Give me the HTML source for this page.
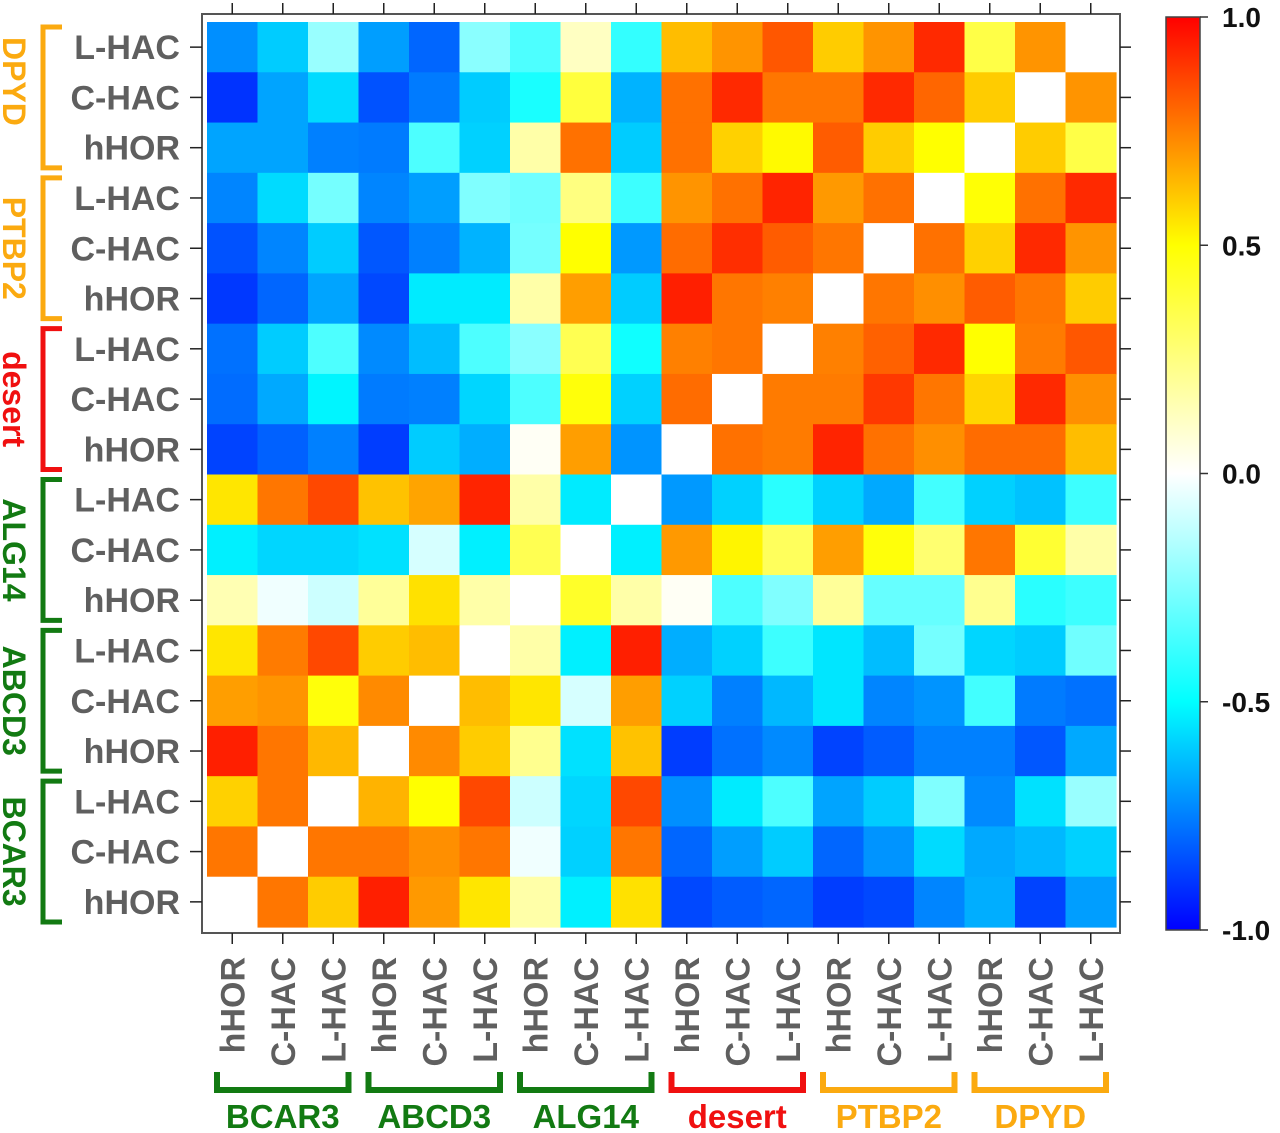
<!DOCTYPE html>
<html><head><meta charset="utf-8"><style>
html,body{margin:0;padding:0;background:#fff;}
svg{display:block;font-family:"Liberation Sans",Arial,sans-serif;}
</style></head><body>
<svg id="chart" width="1280" height="1133" viewBox="0 0 1280 1133" xmlns="http://www.w3.org/2000/svg">
<g id="cells"></g>
<g id="axes"></g>
<g id="labels"></g>
<g id="cbar"></g>
</svg>
<script>
// Row categories (top to bottom)
const rowLabels = ["L-HAC","C-HAC","hHOR","L-HAC","C-HAC","hHOR","L-HAC","C-HAC","hHOR","L-HAC","C-HAC","hHOR","L-HAC","C-HAC","hHOR","L-HAC","C-HAC","hHOR"];
const rowGroups = ["DPYD","PTBP2","desert","ALG14","ABCD3","BCAR3"];
// Column categories (left to right)
const colLabels = ["hHOR","C-HAC","L-HAC","hHOR","C-HAC","L-HAC","hHOR","C-HAC","L-HAC","hHOR","C-HAC","L-HAC","hHOR","C-HAC","L-HAC","hHOR","C-HAC","L-HAC"];
const colGroups = ["BCAR3","ABCD3","ALG14","desert","PTBP2","DPYD"];
const groupColors = {"DPYD":"#fbaa10","PTBP2":"#fbaa10","desert":"#f01010","ALG14":"#127a12","ABCD3":"#127a12","BCAR3":"#127a12"};
// Correlation values
const corr = [
[-.72,-.60,-.20,-.69,-.80,-.23,-.35,.12,-.40, .63,.71,.83,.60,.71,.92,.36,.71,0],
[-.90,-.68,-.57,-.84,-.76,-.60,-.45,.38,-.65, .78,.92,.77,.77,.92,.80,.60,0,.71],
[-.68,-.68,-.75,-.76,-.35,-.59,.17,.78,-.60, .78,.59,.51,.82,.60,.50,0,.60,.36],
[-.74,-.57,-.27,-.74,-.69,-.25,-.28,.25,-.38, .71,.78,.93,.70,.78,0,.49,.78,.92],
[-.84,-.74,-.60,-.83,-.75,-.65,-.27,.50,-.70, .79,.91,.82,.77,0,.78,.59,.92,.71],
[-.89,-.80,-.68,-.86,-.54,-.54,.17,.69,-.60, .94,.77,.75,0,.77,.72,.82,.77,.60],
[-.78,-.60,-.35,-.73,-.63,-.35,-.23,.34,-.47, .75,.77,0,.75,.81,.92,.50,.76,.83],
[-.79,-.67,-.52,-.76,-.75,-.58,-.35,.48,-.59, .79,0,.76,.76,.89,.77,.58,.92,.72],
[-.87,-.81,-.75,-.88,-.60,-.66,.02,.69,-.71, 0,.78,.76,.93,.78,.72,.79,.79,.63],
[.55,.77,.86,.62,.68,.93,.17,-.54,0, -.70,-.59,-.42,-.59,-.67,-.37,-.59,-.62,-.38],
[-.53,-.58,-.58,-.56,-.08,-.53,.34,0,-.53, .70,.52,.32,.69,.48,.28,.77,.40,.17],
[.15,-.03,-.10,.20,.56,.17,0,.42,.17, .02,-.35,-.25,.20,-.30,-.30,.22,-.42,-.38],
[.55,.76,.86,.60,.63,0,.17,-.53,.94, -.66,-.59,-.38,-.55,-.63,-.27,-.58,-.60,-.28],
[.69,.71,.48,.73,0,.63,.55,-.08,.69, -.59,-.75,-.64,-.55,-.74,-.71,-.37,-.76,-.78],
[.94,.77,.64,0,.73,.60,.22,-.56,.62, -.88,-.78,-.73,-.87,-.82,-.75,-.75,-.83,-.67],
[.59,.77,0,.65,.50,.86,-.10,-.58,.86, -.72,-.54,-.35,-.68,-.60,-.25,-.73,-.56,-.20],
[.77,0,.77,.77,.72,.77,-.03,-.59,.77, -.80,-.69,-.60,-.80,-.71,-.57,-.67,-.64,-.59],
[0,.77,.60,.94,.70,.55,.17,-.53,.56, -.86,-.82,-.80,-.88,-.86,-.74,-.66,-.87,-.69]
];
const cbTicks = [1.0,0.5,0.0,-0.5,-1.0];
const cbTickText = ["1.0","0.5","0.0","-0.5","-1.0"];

const NS="http://www.w3.org/2000/svg";
function mk(tag,attrs,parent){const e=document.createElementNS(NS,tag);for(const k in attrs)e.setAttribute(k,attrs[k]);parent.appendChild(e);return e;}
const X0=207,Y0=22,CW=(1116-207)/18,CH=(927-22)/18;
const xScale=i=>X0+i*CW, yScale=j=>Y0+j*CH;
const stops=[[-1,[0,0,255]],[-0.75,[0,128,255]],[-0.5,[0,255,255]],[0,[255,255,255]],[0.5,[255,255,0]],[0.75,[255,128,0]],[1,[255,0,0]]];
function cmap(v){v=Math.max(-1,Math.min(1,v));for(let i=0;i<stops.length-1;i++){const[a,ca]=stops[i],[b,cb]=stops[i+1];if(v<=b){const t=(v-a)/(b-a);return "rgb("+ca.map((c,k)=>Math.round(c+(cb[k]-c)*t)).join(",")+")";}}return "rgb(255,0,0)";}
const cells=document.getElementById('cells');
corr.forEach((row,r)=>row.forEach((v,c)=>{
  const e=mk('rect',{x:xScale(c).toFixed(2),y:yScale(r).toFixed(2),width:(CW+0.6).toFixed(2),height:(CH+0.6).toFixed(2),fill:cmap(v)},cells);
  
  
}));
const axes=document.getElementById('axes');
const fr=mk('rect',{x:202,y:14,width:918,height:919,fill:'none',stroke:'#555','stroke-width':2},axes);


for(let i=0;i<18;i++){
  const cx=xScale(i)+CW/2, cy=yScale(i)+CH/2;
  mk('line',{x1:cx,y1:3,x2:cx,y2:14,stroke:'#222','stroke-width':1.5},axes);
  mk('line',{x1:cx,y1:933,x2:cx,y2:944,stroke:'#222','stroke-width':1.5},axes);
  mk('line',{x1:190,y1:cy,x2:202,y2:cy,stroke:'#222','stroke-width':1.5},axes);
  mk('line',{x1:1120,y1:cy,x2:1131,y2:cy,stroke:'#222','stroke-width':1.5},axes);
}
const labels=document.getElementById('labels');
rowLabels.forEach((t,i)=>{
  const e=mk('text',{x:180,y:yScale(i)+CH/2+12,'text-anchor':'end','font-size':34,'font-weight':'bold',fill:'#5f5f5f'},labels);
  e.textContent=t;
  
  
});
colLabels.forEach((t,i)=>{
  const cx=xScale(i)+CW/2+12;
  const e=mk('text',{x:0,y:0,transform:'translate('+cx+',957) rotate(-90)','text-anchor':'end','font-size':34,'font-weight':'bold',fill:'#5f5f5f'},labels);
  e.textContent=t;
  
  
});
rowGroups.forEach((g,k)=>{
  const col=groupColors[g];const top=yScale(k*3)+5,bot=yScale(k*3+3)-5;
  const br=mk('path',{d:'M62,'+top+' H43 V'+bot+' H62',fill:'none',stroke:col,'stroke-width':5},labels);
  
  
  const cy=(top+bot)/2 - (g==='DPYD'?16:0);
  const e=mk('text',{x:0,y:0,transform:'translate(3,'+cy+') rotate(90)','text-anchor':'middle','font-size':32,'font-weight':'bold',fill:col},labels);
  e.textContent=g;
  
  
});
colGroups.forEach((g,k)=>{
  const col=groupColors[g];const l=xScale(k*3)+10,r=xScale(k*3+3)-10;
  const br=mk('path',{d:'M'+l+',1072 V1090 H'+r+' V1072',fill:'none',stroke:col,'stroke-width':6},labels);
  
  
  const e=mk('text',{x:(l+r)/2,y:1128,'text-anchor':'middle','font-size':33,'font-weight':'bold',fill:col},labels);
  e.textContent=g;
  
  
});
// colorbar
const cb=document.getElementById('cbar');
const CBT=17,CBB=930,CBL=1166,CBR=1200;
const cbY=v=>CBT+(1-v)/2*(CBB-CBT);
const defs=mk('defs',{},cb);
const lg=mk('linearGradient',{id:'cbg',x1:0,y1:0,x2:0,y2:1},defs);
for(let i=0;i<=40;i++){const v=1-i/20;mk('stop',{offset:(i/40),'stop-color':cmap(v)},lg);}
const cbr=mk('rect',{x:CBL,y:CBT,width:CBR-CBL,height:CBB-CBT,fill:'url(#cbg)',stroke:'#444','stroke-width':1.5},cb);


cbTicks.forEach((v,i)=>{
  const y=cbY(v);
  mk('line',{x1:CBR,y1:y,x2:CBR+8,y2:y,stroke:'#333','stroke-width':1.5},cb);
  const e=mk('text',{x:1222,y:y+10,'font-size':28,'font-weight':'bold',fill:'#111'},cb);
  e.textContent=cbTickText[i];
  
  
});
</script>
</body></html>
